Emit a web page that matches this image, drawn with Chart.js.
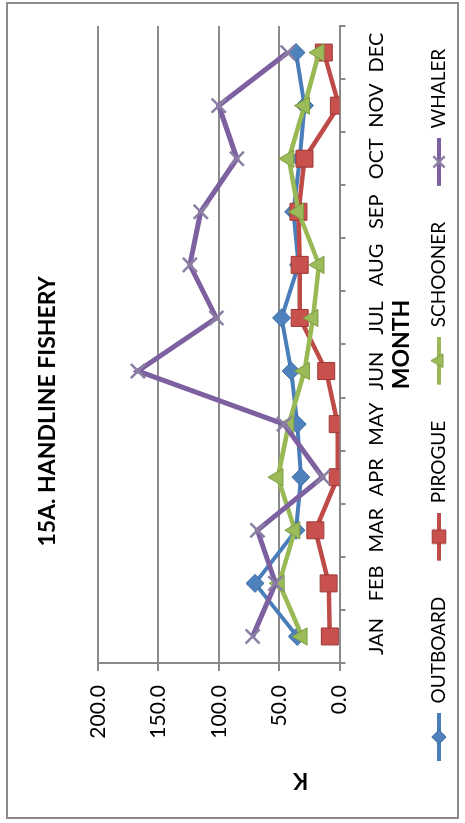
<!DOCTYPE html>
<html>
<head>
<meta charset="utf-8">
<script src="https://cdn.jsdelivr.net/npm/chart.js@4.4.1/dist/chart.umd.min.js"></script>
<style>
  html, body { margin: 0; padding: 0; background: #fff; overflow: hidden; }
  #wrap { position: absolute; left: 0; top: 0; width: 823px; height: 465px;
          transform-origin: 0 0; transform: translate(0px, 823px) rotate(-90deg); }
  canvas { display: block; }
</style>
</head>
<body>
<div id="wrap"><canvas id="c" width="823" height="465" style="width:823px;height:465px"></canvas></div>
<script>
// ---- data ----
const months   = ['JAN','FEB','MAR','APR','MAY','JUN','JUL','AUG','SEP','OCT','NOV','DEC'];
const outboard = [35, 70, 36, 32, 35, 40, 48, 34, 38, 33, 29, 36];
const pirogue  = [8, 9, 20, 1.5, 1.5, 11, 33, 33, 34, 29, 0.5, 13];
const schooner = [31, 50, 37, 51, 42, 29, 22, 17, 34, 42, 29, 17];
const whaler   = [72, 53, 68, 14, 46, 167, 102, 124, 115, 85, 100, 43];
const seriesNames = ['OUTBOARD', 'PIROGUE', 'SCHOONER', 'WHALER'];
const chartTitle = '15A. HANDLINE FISHERY';
const xTitle = 'MONTH';
const yTitle = 'K';

const FONT = 'Lato, "Liberation Sans", sans-serif';

const styles = [
  {line: '#4A7EBB', fill: '#4F81BD', border: '#3B6CA6', ps: 'rectRot', r: 9, bw: 1, lw: 4},
  {line: '#BE4B48', fill: '#C8504D', border: '#9E3835', ps: 'rect', r: 12, bw: 1, lw: 4.5},
  {line: '#98B954', fill: '#9BBB59', border: '#7E9C42', ps: 'triangle', r: 10, bw: 1, lw: 4.5},
  {line: '#7D60A0', fill: '#8B7FA4', border: '#8B7FA4', ps: 'crossRot', r: 10, bw: 2.5, lw: 5}
];

const ICON_W = 74, ICON_BLANK = 26;
function makeIcon(s) {
  const c = document.createElement('canvas');
  c.width = ICON_W; c.height = 26;
  const g = c.getContext('2d');
  g.strokeStyle = s.line; g.lineWidth = 4;
  g.beginPath(); g.moveTo(ICON_BLANK, 13); g.lineTo(ICON_W, 13); g.stroke();
  g.fillStyle = s.fill; g.strokeStyle = s.border; g.lineWidth = s.bw;
  Chart.helpers.drawPoint(g, {pointStyle: s.ps, radius: s.r * 0.8, rotation: 0, borderWidth: s.bw},
                          (ICON_BLANK + ICON_W) / 2, 13);
  return c;
}
const icons = styles.map(makeIcon);

const seriesData = [outboard, pirogue, schooner, whaler];
const datasets = seriesData.map((d, i) => ({
  label: seriesNames[i],
  data: d,
  borderColor: styles[i].line,
  borderWidth: styles[i].lw,
  pointStyle: styles[i].ps,
  pointRadius: styles[i].r,
  pointBackgroundColor: styles[i].fill,
  pointBorderColor: styles[i].border,
  pointBorderWidth: styles[i].bw,
  tension: 0,
  order: 4 - i
}));

const frameAndTitle = {
  id: 'frameAndTitle',
  beforeDraw(chart) {
    const ctx = chart.ctx;
    ctx.save();
    ctx.fillStyle = '#fff';
    ctx.fillRect(0, 0, chart.width, chart.height);
    ctx.strokeStyle = '#8a8a8a';
    ctx.lineWidth = 2;
    ctx.strokeRect(5, 7, 815, 451);
    ctx.restore();
  },
  afterDraw(chart) {
    const ctx = chart.ctx, a = chart.chartArea;
    ctx.save();
    ctx.translate(a.left - 117, (a.top + a.bottom) / 2 + 82);
    ctx.rotate(-Math.PI / 2);
    ctx.font = 'bold 22px ' + FONT;
    ctx.fillStyle = '#000';
    ctx.textAlign = 'center';
    ctx.textBaseline = 'middle';
    ctx.fillText(yTitle, 0, 0);
    ctx.restore();
  }
};

new Chart(document.getElementById('c'), {
  type: 'line',
  data: { labels: months, datasets },
  plugins: [frameAndTitle],
  options: {
    responsive: false,
    animation: false,
    devicePixelRatio: 1,
    layout: { padding: { left: 26, right: 26, top: 0, bottom: 6.5 } },
    plugins: {
      title: {
        display: true, text: chartTitle, color: '#000',
        font: { family: FONT, size: 23, weight: 'bold' },
        padding: { top: 34, bottom: 36.5 }
      },
      legend: {
        position: 'bottom',
        align: 'start',
        labels: {
          usePointStyle: true,
          pointStyleWidth: ICON_W,
          padding: 10,
          color: '#000',
          font: { family: FONT, size: 19 },
          generateLabels(chart) {
            const items = Chart.defaults.plugins.legend.labels.generateLabels(chart);
            items.forEach(it => { it.pointStyle = icons[it.datasetIndex]; });
            return items;
          },
          sort: (a, b) => a.datasetIndex - b.datasetIndex
        }
      },
      tooltip: { enabled: false }
    },
    scales: {
      x: {
        type: 'category',
        offset: true,
        grid: { offset: true, drawOnChartArea: false, drawTicks: true, tickLength: 6, color: '#8a8a8a', lineWidth: 2 },
        border: { color: '#8a8a8a', width: 2 },
        ticks: { color: '#000', font: { family: FONT, size: 20 }, padding: 19.5, maxRotation: 0, autoSkip: false },
        title: { display: true, text: xTitle, color: '#000', font: { family: FONT, size: 23, weight: 'bold' }, padding: { top: 0, bottom: 4.5 } },
        afterFit(s) { s.height = 80; }
      },
      y: {
        min: 0, max: 200,
        grid: { color: '#8a8a8a', lineWidth: 2, tickLength: 8, drawTicks: true },
        border: { color: '#8a8a8a', width: 2 },
        ticks: { stepSize: 50, color: '#000', font: { family: FONT, size: 21 }, padding: 14,
                 callback: v => Number(v).toFixed(1) },
        afterFit(s) { s.width = 134; }
      }
    }
  }
});
</script>
</body>
</html>
